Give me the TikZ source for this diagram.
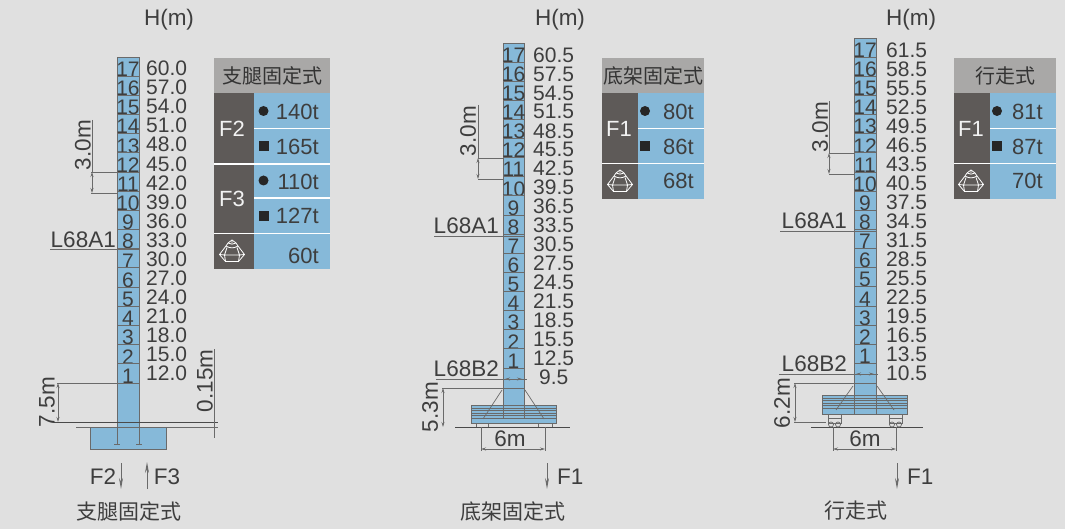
\documentclass[tikz,border=0pt]{standalone}
\usepackage{fontspec}
\setmainfont{Liberation Sans}
\newfontfamily\cjk{Noto Sans CJK SC}
\definecolor{bgc}{HTML}{E0E0E0}
\definecolor{blu}{HTML}{86B9D9}
\definecolor{dkc}{HTML}{5E5A58}
\definecolor{hdc}{HTML}{A9A8A7}
\definecolor{txc}{HTML}{3E3E3E}
\definecolor{lnc}{HTML}{6A6A6A}
\usetikzlibrary{arrows.meta}
\tikzset{
 lab/.style={inner sep=0pt,text=txc,font=\fontsize{21}{21}\selectfont},
 big/.style={inner sep=0pt,text=txc,font=\fontsize{22.5}{22}\selectfont},
 labl/.style={lab,anchor=west},
 cn/.style={inner sep=0pt,text=txc,font=\fontsize{21}{21}\selectfont\cjk},
 cnh/.style={inner sep=0pt,text=black!80,font=\fontsize{20}{20}\selectfont\cjk},
 seg/.style={inner sep=0pt,text=txc,font=\fontsize{21}{21}\selectfont},
 ln/.style={draw=lnc,line width=.7pt},
 gnd/.style={draw=lnc!70!black,line width=1pt},
 dim/.style={ln,{Stealth[length=5pt,width=3pt]}-{Stealth[length=5pt,width=3pt]}},
 force/.style={draw=lnc,line width=.9pt,-{Stealth[length=11pt,width=4pt]}},
 tw/.style={fill=blu,draw=lnc,line width=.9pt},
 dk/.style={fill=dkc,draw=none},
 bl/.style={fill=blu,draw=none},
 hd/.style={fill=hdc,draw=none},
 wt/.style={inner sep=0pt,text=white!90!gray,font=\fontsize{22}{22}\selectfont},
 val/.style={inner sep=0pt,text=txc,font=\fontsize{22}{22}\selectfont},
 wl/.style={draw=white,line width=1.2pt},
 rot/.style={big,rotate=90},
 tick/.style={fill=black!85,draw=none}
}
% icon: #1 centre x, #2 centre y
\newcommand{\crawlericon}[2]{%
 \begin{scope}[shift={(#1,#2)},draw=white,line width=.8pt,line join=round]
  \draw (-12.5,3.5) -- (-6,-5) -- (-4,-8) -- (0,-11) -- (4,-8) -- (6,-5) -- (12.5,3.5) -- (6.5,10.5) -- (-6.5,10.5) -- cycle;
  \draw (-6,-5) .. controls (-2,-2.5) and (2,-2.5) .. (6,-5);
  \draw (-5,-3.5) -- (-7.5,4) -- (-6.5,10.5) (5,-3.5) -- (7.5,4) -- (6.5,10.5) (-12.5,3.5) -- (-7.5,4) -- (7.5,4) -- (12.5,3.5);
  \draw (0,-11) -- (0,-8) (-4,-8) .. controls (-1.5,-6.5) and (1.5,-6.5) .. (4,-8);
 \end{scope}}
% tower: #1 prefix, #2 x left, #3 x right, #4 y top, #5 y of bottom of seg 1, #6 label x
\newcommand{\towersegs}[6]{%
 \pgfmathsetmacro{\dy}{(#5-#4)/17}
 \foreach \i in {17,...,1}{
  \pgfmathsetmacro{\yt}{#5-\i*\dy}
  \pgfmathsetmacro{\yb}{\yt+\dy}
  \pgfmathsetmacro{\xc}{(#2+#3)/2}
  \pgfmathsetmacro{\yc}{\yt+\dy/2+2.5}
  \draw[tw] (#2,\yt) rectangle (#3,\yb);
  \node[seg] (#1s\i) at (\xc,\yc) {\i};
 }}
\begin{document}
\begin{tikzpicture}[x=1pt,y=-1pt]
\useasboundingbox (0,0) rectangle (1065,529);
\fill[bgc] (0,0) rectangle (1065,529);

%% ---------- left
\node[big] (h1) at (169,20) {H(m)};
% foundation
\fill[blu,draw=lnc,line width=.8pt] (90,427) rectangle (166,449);
\fill[blu,draw=lnc,line width=.9pt] (117,383) rectangle (139,422);
\fill[blu] (117.5,422) rectangle (138.5,449);
\draw[ln] (117,422) -- (117,444) (139,422) -- (139,444);
\draw[ln] (114,444) -- (120,444) (136,444) -- (142,444);
\towersegs{a}{117}{139}{57}{383}{146}
\foreach \v [count=\k from 0] in {60.0,57.0,54.0,51.0,48.0,45.0,42.0,39.0,36.0,33.0,30.0,27.0,24.0,21.0,18.0,15.0,12.0}{
 \pgfmathsetmacro{\yy}{68.5+\k*19.06}
 \node[labl] (av\k) at (146,\yy) {\v};
}
\coordinate (ag1) at (54,422); \coordinate (ag2) at (218,422);
\draw[gnd] (ag1) -- (ag2);
\coordinate (ag3) at (76,427); \coordinate (ag4) at (218,427);
\draw[ln] (ag3) -- (ag4);
\draw[ln] (57,383) -- (117,383);
\draw[dim] (58,383) -- (58,422);
\node[rot] (a75) at (47,402) {7.5m};
\draw[ln] (214.5,349) -- (214.5,438);
\node[rot] (a015) at (205,381) {0.15m};
\draw[ln] (91,172) -- (117,172) (91,193) -- (117,193) (92,120) -- (92,172);
\draw[dim] (92,172) -- (92,193);
\node[rot] (a30) at (83,145) {3.0m};
\node[big,anchor=east] (al) at (116,240) {L68A1};
\coordinate (alA) at (50,249); \coordinate (alB) at (140,249);
\draw[ln] (alA) -- (alB);
\node[big] (af2) at (103,477) {F2};
\draw[force] (121,463) -- (121,489);
\draw[force] (147,489) -- (147,462);
\node[big] (af3) at (167,477) {F3};
\node[cn] (at) at (129,511) {支腿固定式};

% table 1
\fill[hd] (214,58) rectangle (330,93);
\node[cnh] (t1h) at (272,76) {支腿固定式};
\fill[bl] (254,93) rectangle (330,269);
\fill[dk] (214,93) rectangle (254,269);
\draw[wl] (254,128.5) -- (330,128.5) (254,198) -- (330,198);
\draw[wl] (214,164) -- (330,164) (214,233.5) -- (330,233.5);
\node[wt] (t1f2) at (232,129) {F2};
\node[wt] (t1f3) at (232,199) {F3};
\fill[tick] (263.5,111) circle (5);
\fill[tick] (259,141) rectangle (269,151);
\fill[tick] (263.5,180.5) circle (5);
\fill[tick] (259,211) rectangle (269,221);
\node[val,anchor=east] (t1a) at (319,112) {140t};
\node[val,anchor=east] (t1b) at (319,147) {165t};
\node[val,anchor=east] (t1c) at (319,182) {110t};
\node[val,anchor=east] (t1d) at (319,216) {127t};
\node[val,anchor=east] (t1e) at (319,256) {60t};
\crawlericon{232}{251}

%% ---------- middle
\node[big] (h2) at (560,20) {H(m)};
% base
\fill[blu,draw=lnc,line width=.8pt] (471,405) rectangle (556,423);
\foreach \y in {408,410.5,...,420}{\draw[draw=lnc,line width=.6pt] (471,\y) -- (556,\y);}
\fill[blu,draw=lnc,line width=.8pt] (503,388) rectangle (524,405);
\draw[ln] (503,405) -- (503,419) (524,405) -- (524,419);
\draw[ln] (502,390) -- (483,419) (525,390) -- (544,419);
\towersegs{b}{503}{524}{43}{368}{533}
\draw[tw] (503,368) rectangle (524,388);
\foreach \v [count=\k from 0] in {60.5,57.5,54.5,51.5,48.5,45.5,42.5,39.5,36.5,33.5,30.5,27.5,24.5,21.5,18.5,15.5,12.5}{
 \pgfmathsetmacro{\yy}{55+\k*18.95}
 \node[labl] (bv\k) at (533,\yy) {\v};
}
\node[labl] (bv17) at (539,377) {9.5};
\coordinate (bg1) at (455,427); \coordinate (bg2) at (570,427);
\draw[gnd] (bg1) -- (bg2);
\draw[ln] (476,423) -- (476,427) (488,423) -- (488,427) (538,423) -- (538,427) (552,423) -- (552,427);
\draw[ln] (442,388) -- (503,388);
\draw[dim] (443,388) -- (443,427);
\node[rot] (b53) at (430,407) {5.3m};
\draw[ln] (481,427) -- (481,451) (545,427) -- (545,451);
\draw[dim] (481,449) -- (545,449);
\node[big] (b6) at (510,439) {6m};
\draw[ln] (478,158) -- (503,158) (478,179) -- (503,179) (478,105) -- (478,158);
\draw[dim] (478,158) -- (478,179);
\node[rot] (b30) at (468,131) {3.0m};
\node[big,anchor=east] (bl) at (499,226) {L68A1};
\coordinate (blA) at (434,236); \coordinate (blB) at (525,236);
\draw[ln] (blA) -- (blB);
\node[big,anchor=east] (bl2) at (499,369) {L68B2};
\coordinate (blC) at (436,379); \coordinate (blD) at (527,379);
\draw[ln] (blC) -- (blD);
\draw[dim] (505,379) -- (522,379);
\draw[force] (547,463) -- (547,489);
\node[big,anchor=west] (bf1) at (557,477) {F1};
\node[cn] (bt) at (513,511) {底架固定式};

% table 2
\fill[hd] (602,58) rectangle (704,93);
\node[cnh] (t2h) at (653,76) {底架固定式};
\fill[bl] (638,93) rectangle (704,199);
\fill[dk] (602,93) rectangle (638,199);
\draw[wl] (638,128.5) -- (704,128.5);
\draw[wl] (602,163.5) -- (704,163.5);
\node[wt] (t2f) at (619,129) {F1};
\fill[tick] (645,111) circle (5);
\fill[tick] (640,141) rectangle (650,151);
\node[val,anchor=east] (t2a) at (694,112) {80t};
\node[val,anchor=east] (t2b) at (694,147) {86t};
\node[val,anchor=east] (t2c) at (694,181) {68t};
\crawlericon{620}{181}

%% ---------- right
\node[big] (h3) at (911,20) {H(m)};
% base
\fill[blu,draw=lnc,line width=.8pt] (822,395) rectangle (907,414);
\foreach \y in {398,400.5,...,410}{\draw[draw=lnc,line width=.6pt] (822,\y) -- (907,\y);}
\fill[blu,draw=lnc,line width=.8pt] (854,383) rectangle (876,395);
\draw[ln] (854,395) -- (854,414) (876,395) -- (876,414);
\draw[ln] (853,386) -- (836,410) (877,386) -- (894,410);
\towersegs{c}{854}{876}{38}{363.5}{886}
\draw[tw] (854,363.5) rectangle (876,383);
\foreach \v [count=\k from 0] in {61.5,58.5,55.5,52.5,49.5,46.5,43.5,40.5,37.5,34.5,31.5,28.5,25.5,22.5,19.5,16.5,13.5,10.5}{
 \pgfmathsetmacro{\yy}{50.5+\k*18.97}
 \node[labl] (cv\k) at (886,\yy) {\v};
}
\coordinate (cg1) at (811,427); \coordinate (cg2) at (923,427);
\draw[gnd] (cg1) -- (cg2);
\foreach \x in {828,889}{
 \draw[ln,fill=bgc] (\x,414) rectangle (\x+13,423);
 \draw[ln] (\x+3,424.5) circle (2.5) (\x+10,424.5) circle (2.5);
 \draw[ln] (\x,418) -- (\x+13,418);
}
\draw[ln] (794,383) -- (854,383) (794,422) -- (826,422);
\draw[dim] (795,383) -- (795,422);
\node[rot] (c62) at (782,403) {6.2m};
\draw[ln] (833,427) -- (833,451) (896,427) -- (896,451);
\draw[dim] (833,449) -- (896,449);
\node[big] (c6) at (865,439) {6m};
\draw[ln] (829,153) -- (854,153) (829,174) -- (854,174) (829,101) -- (829,153);
\draw[dim] (829,153) -- (829,174);
\node[rot] (c30) at (820,127) {3.0m};
\node[big,anchor=east] (cl) at (847,221) {L68A1};
\coordinate (clA) at (780,231); \coordinate (clB) at (877,231);
\draw[ln] (clA) -- (clB);
\node[big,anchor=east] (cl2) at (847,364) {L68B2};
\coordinate (clC) at (779,374); \coordinate (clD) at (878,374);
\draw[ln] (clC) -- (clD);
\draw[dim] (856,374) -- (874,374);
\draw[force] (897,463) -- (897,489);
\node[big,anchor=west] (cf1) at (907,477) {F1};
\node[cn] (ct) at (856,511) {行走式};

% table 3
\fill[hd] (954,58) rectangle (1056,93);
\node[cnh] (t3h) at (1005,76) {行走式};
\fill[bl] (990,93) rectangle (1056,199);
\fill[dk] (954,93) rectangle (990,199);
\draw[wl] (990,128.5) -- (1056,128.5);
\draw[wl] (954,163.5) -- (1056,163.5);
\node[wt] (t3f) at (971,129) {F1};
\fill[tick] (997,111) circle (5);
\fill[tick] (992,141) rectangle (1002,151);
\node[val,anchor=east] (t3a) at (1043,112) {81t};
\node[val,anchor=east] (t3b) at (1043,147) {87t};
\node[val,anchor=east] (t3c) at (1043,181) {70t};
\crawlericon{971}{181}
\end{tikzpicture}
\end{document}
